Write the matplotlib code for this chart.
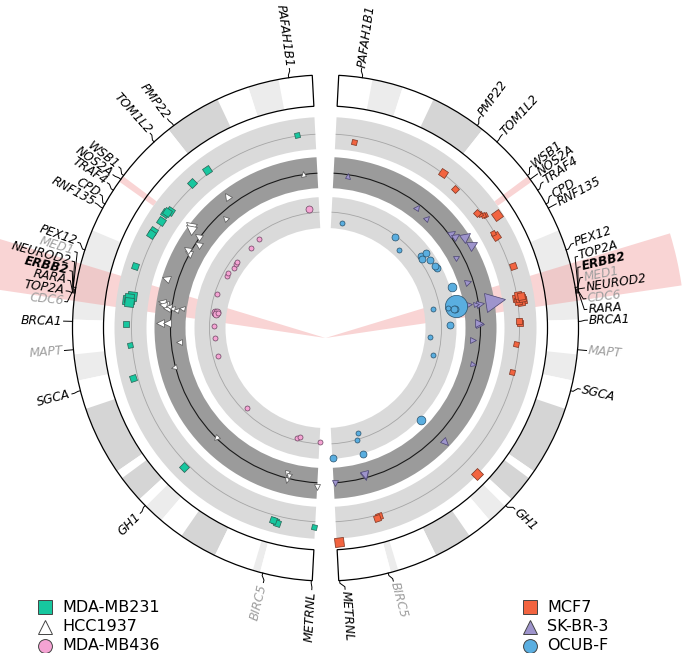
import matplotlib
matplotlib.use("Agg")
import numpy as np
import matplotlib.pyplot as plt
from matplotlib.patches import Wedge, Arc
from matplotlib.markers import MarkerStyle
from matplotlib.transforms import Affine2D

CHROM_LEN = 81.2

# chromosome 17 ideogram bands (Mb) and stain
band_start = [0.0, 3.6, 6.9, 10.4, 16.5, 30.0, 39.7, 43.4, 46.2, 49.3, 56.7, 57.6, 60.5, 61.5, 63.7, 66.4, 70.5, 74.8, 75.6]
band_end = [3.6, 6.9, 10.4, 16.5, 30.0, 39.7, 43.4, 46.2, 49.3, 56.7, 57.6, 60.5, 61.5, 63.7, 66.4, 70.5, 74.8, 75.6, 81.2]
band_stain = ['gneg', 'gpos25', 'gneg', 'gpos75', 'gneg', 'gpos25', 'gneg', 'gpos25', 'gneg', 'gpos75',
              'gneg', 'gpos75', 'gneg', 'gpos25', 'gneg', 'gpos75', 'gneg', 'gpos25', 'gneg']

# gene labels
gene_names = ['PAFAH1B1', 'PMP22', 'TOM1L2', 'WSB1', 'NOS2A', 'TRAF4', 'CPD', 'RNF135', 'PEX12', 'MED1',
              'NEUROD2', 'ERBB2', 'RARA', 'TOP2A', 'CDC6', 'BRCA1', 'MAPT', 'SGCA', 'GH1', 'BIRC5', 'METRNL']
gene_pos = [2.5, 15.8, 18.5, 23.3, 23.8, 25.2, 26.9, 27.4, 32.2, 36.3,
            36.5, 36.6, 36.8, 36.9, 36.7, 39.9, 42.9, 47.3, 61.4, 75.9, 81.1]
left_label_pos = [2.3, 15.9, 18.2, 22.9, 23.9, 24.9, 26.3, 27.3, 31.7, 32.7,
                  33.7, 34.7, 35.7, 36.8, 37.9, 39.9, 42.9, 47.4, 61.6, 76.2, 81.2]
right_label_pos = [2.3, 15.5, 18.4, 22.8, 23.8, 24.8, 26.4, 27.4, 31.8, 35.4,
                   36.5, 34.3, 38.7, 33.2, 37.6, 39.8, 42.9, 46.9, 61.0, 75.6, 80.6]
gray_genes = ['MED1', 'CDC6', 'MAPT', 'BIRC5']
bold_genes = ['ERBB2']

# outer track: MDA-MB231 (left) / MCF7 (right)
mda231_pos = [2.5, 15.8, 18.5, 23.4, 23.7, 24.0, 25.2, 26.9, 27.4, 32.2, 36.2, 36.5, 36.7, 36.9, 37.1,
              40.0, 42.9, 47.4, 61.4, 75.5, 75.8, 76.1, 81.1]
mda231_val = [0.06, 0.25, 0.16, 0.06, 0.12, 0.19, 0.12, 0.22, 0.25, 0.42, 0.15, 0.30, 0.20, 0.40, 0.25,
              0.38, 0.16, 0.31, 0.28, 0.31, 0.38, 0.44, 0.33]
mda231_size = [1, 2, 2, 2, 2, 2, 2, 2, 2, 2, 3, 3, 3, 3, 3, 2, 1, 2, 2, 2, 2, 2, 1]

mcf7_pos = [2.6, 15.9, 18.6, 23.2, 23.6, 24.1, 24.0, 25.0, 26.8, 27.4, 32.1, 36.1, 36.3, 36.5, 36.6,
            36.8, 37.0, 36.4, 36.9, 39.6, 39.9, 42.8, 46.8, 61.1, 75.2, 75.5, 80.9]
mcf7_val = [-0.35, 0.03, -0.25, -0.22, -0.12, 0.12, 0.0, 0.72, -0.06, 0.0, 0.2, 0.05, 0.25, 0.1, 0.3,
            0.0, 0.2, -0.05, 0.35, 0.0, 0.06, -0.19, -0.12, 1.06, 0.12, 0.19, 1.3]
mcf7_size = [1, 2, 1, 1, 1, 1, 1, 3, 1, 2, 2, 2, 2, 2, 2, 2, 2, 2, 2, 2, 2, 1, 1, 3, 2, 2, 3]

# middle track: HCC1937 (left) / SK-BR-3 (right)
hcc1937_pos = [2.5, 15.7, 18.4, 23.2, 23.6, 23.9, 25.1, 26.8, 27.3, 32.4, 36.4, 36.6, 36.8, 36.9, 37.1,
               37.2, 37.4, 36.9, 39.8, 39.8, 43.1, 47.4, 61.6, 75.6, 76.2, 76.0, 81.2]
hcc1937_val = [0.06, 0.65, -0.41, 1.0, 0.84, 0.13, -0.15, 0.3, 0.1, 0.77, 0.7, 0.45, 0.2, 0.58, 0.0,
               0.32, -0.26, -0.65, 0.69, 0.26, -0.5, 0.12, 0.02, -0.34, -0.19, 0.13, 0.26]
hcc1937_size = [1, 2, 1, 3, 3, 2, 2, 2, 2, 2, 2, 2, 1, 2, 1, 2, 1, 1, 2, 2, 1, 1, 1, 1, 1, 1, 1]

skbr3_pos = [2.6, 15.9, 18.6, 23.3, 24.1, 25.1, 26.8, 27.4, 32.2, 36.1, 36.3, 36.5, 36.4, 39.7, 39.9,
             42.8, 47.0, 61.0, 75.5, 75.7, 81.0]
skbr3_val = [-0.08, -0.23, -0.34, 0.19, 0.3, 0.82, 0.96, -0.4, -0.35, -0.58, -0.19, 0.06, 1.07, -0.06, 0.0,
             -0.43, -0.22, 0.68, -0.18, -0.1, 0.0]
skbr3_size = [1, 1, 1, 2, 2, 3, 3, 1, 1, 1, 1, 2, 4, 2, 2, 1, 1, 2, 2, 2, 1]

# inner track: MDA-MB436 (left) / OCUB-F (right)
mda436_pos = [2.3, 15.8, 18.6, 23.4, 24.0, 25.2, 27.0, 27.6, 32.4, 36.6, 36.8, 37.0, 37.2, 36.9,
              40.1, 43.1, 47.3, 61.7, 75.8, 76.5, 81.3]
mda436_val = [0.25, -0.29, -0.43, -0.34, -0.4, -0.41, -0.26, -0.31, -0.15, -0.39, -0.26, -0.32, -0.35, -0.45,
              -0.32, -0.35, -0.3, -0.25, -0.18, -0.29, -0.14]
mda436_size = [2, 1, 1, 1, 1, 1, 1, 1, 1, 2, 2, 2, 2, 1, 1, 1, 1, 1, 1, 1, 1]

ocubf_pos = [2.7, 16.0, 18.9, 23.3, 23.5, 24.0, 25.2, 26.8, 27.4, 32.2, 36.2, 36.6, 36.7, 36.3, 36.0,
             40.0, 42.9, 47.1, 61.2, 74.5, 75.2, 74.9, 81.0]
ocubf_val = [-0.65, -0.13, -0.57, 0.23, 0.58, 0.14, 0.52, 0.63, 0.69, 1.12, 1.08, 0.9, 0.98, 0.49, -0.44,
             0.55, -0.72, -0.35, 1.06, -0.39, 0.05, 0.97, 0.9]
ocubf_size = [1, 2, 1, 2, 2, 2, 2, 2, 2, 3, 4, 2, 2, 1, 1, 2, 1, 1, 3, 1, 1, 2, 2]

# geometry (1 data unit = 1 pixel)
CX, CY = 325.5, 328
R_IDEO = (222, 253)
TRACKS = [  # (inner, outer, line radius, band colour, line colour, line width)
    (179, 211, 194, '#dadada', '#a5a5a5', 0.6),
    (140, 171, 155, '#9b9b9b', '#1a1a1a', 0.8),
    (100, 131, 116, '#dadada', '#a5a5a5', 0.6),
]
HALF = 15.5
stain_col = {'gneg': 'white', 'gpos25': '#ececec', 'gpos75': '#d5d5d5'}
PINK = '#f2a0a0'


def ang(pos, side):
    if side == 'L':
        return 93 + pos / CHROM_LEN * 174
    return 87 - pos / CHROM_LEN * 174


def polar(r, a):
    t = np.deg2rad(a)
    return r * np.cos(t), r * np.sin(t)


def span(p0, p1, side):
    a0, a1 = ang(p0, side), ang(p1, side)
    return min(a0, a1), max(a0, a1)


fig = plt.figure(figsize=(6.85, 6.53), dpi=100)
ax = fig.add_axes([0, 0, 1, 1])
ax.set_xlim(-CX, 685 - CX)
ax.set_ylim(CY - 653, CY)
ax.axis('off')

for side in ['L', 'R']:
    full = span(0, CHROM_LEN, side)
    # ideogram bands
    for s, e, st in zip(band_start, band_end, band_stain):
        t1, t2 = span(s, e, side)
        ax.add_patch(Wedge((0, 0), R_IDEO[1], t1, t2, width=R_IDEO[1] - R_IDEO[0],
                           fc=stain_col[st], ec='none', zorder=1))
    ax.add_patch(Wedge((0, 0), R_IDEO[1], full[0], full[1], width=R_IDEO[1] - R_IDEO[0],
                       fill=False, ec='black', lw=0.9, zorder=5))
    # data tracks
    for r_in, r_out, r_line, col, lcol, lw in TRACKS:
        ax.add_patch(Wedge((0, 0), r_out, full[0], full[1], width=r_out - r_in,
                           fc=col, ec='none', zorder=3))
        ax.add_patch(Arc((0, 0), 2 * r_line, 2 * r_line, theta1=full[0], theta2=full[1],
                         color=lcol, lw=lw, zorder=4))
    # thin highlight at WSB1
    t1, t2 = span(23.4, 24.1, side)
    ax.add_patch(Wedge((0, 0), R_IDEO[1], t1, t2, width=R_IDEO[1] - 211,
                       fc=PINK, alpha=0.45, ec='none', zorder=2))

# ERBB2 highlight wedges (under the tracks)
ax.add_patch(Wedge((0, -10), 360, 163.1, 171.6, fc=PINK, alpha=0.45, ec='none', zorder=2))
ax.add_patch(Wedge((0, -10), 360, 8.4, 16.9, fc=PINK, alpha=0.45, ec='none', zorder=2))

series = [
    (mda231_pos, mda231_val, mda231_size, 'L', 0, 's', '#17c79f', '#2b5f52'),
    (mcf7_pos, mcf7_val, mcf7_size, 'R', 0, 's', '#f26440', '#7a3220'),
    (hcc1937_pos, hcc1937_val, hcc1937_size, 'L', 1, '^', 'white', '#555555'),
    (skbr3_pos, skbr3_val, skbr3_size, 'R', 1, '^', '#9e94cc', '#4a4470'),
    (mda436_pos, mda436_val, mda436_size, 'L', 2, 'o', '#f5a3d3', '#6a4460'),
    (ocubf_pos, ocubf_val, ocubf_size, 'R', 2, 'o', '#5aaee0', '#27506a'),
]
ms_map = {'s': {1: 3.6, 2: 4.8, 3: 6.3},
          '^': {1: 4.0, 2: 5.4, 3: 7.2, 4: 14.0},
          'o': {1: 3.6, 2: 5.0, 3: 6.3, 4: 16.0}}

for pos, val, size, side, ti, mk, fc, ec in series:
    r_line = TRACKS[ti][2]
    order = np.argsort(size)[::-1]
    for i in order:
        a = ang(pos[i], side)
        x, y = polar(r_line + val[i] * HALF, a)
        m = MarkerStyle(mk, transform=Affine2D().rotate_deg(a - 90))
        ax.plot(x, y, ls='none', marker=m, ms=ms_map[mk][size[i]], mfc=fc, mec=ec,
                mew=0.5, zorder=6)

# gene labels
for side, lab_pos in [('L', left_label_pos), ('R', right_label_pos)]:
    for name, gp, lp in zip(gene_names, gene_pos, lab_pos):
        ag, al = ang(gp, side), ang(lp, side)
        pts = [polar(253, ag), polar(255.5, ag), polar(259.5, al), polar(262, al)]
        ax.plot([p[0] for p in pts], [p[1] for p in pts], color='black', lw=0.7, zorder=5)
        tx, ty = polar(263.5, al)
        col = '#9e9e9e' if name in gray_genes else 'black'
        wt = 'bold' if name in bold_genes else 'normal'
        if side == 'L':
            rot, ha = al - 180, 'right'
        else:
            rot, ha = al, 'left'
        ax.text(tx, ty, name, rotation=rot, rotation_mode='anchor', ha=ha, va='center',
                fontsize=8.8, style='italic', weight=wt, color=col, zorder=7)

# legends
legend_left = [('MDA-MB231', 's', '#17c79f'), ('HCC1937', '^', 'white'), ('MDA-MB436', 'o', '#f5a3d3')]
legend_right = [('MCF7', 's', '#f26440'), ('SK-BR-3', '^', '#9e94cc'), ('OCUB-F', 'o', '#5aaee0')]
for entries, mx in [(legend_left, 45), (legend_right, 530)]:
    for k, (lab, mk, fc) in enumerate(entries):
        yy = CY - (607 + 19.5 * k)
        ax.plot(mx - CX, yy, ls='none', marker=mk, ms=10, mfc=fc, mec='#444444', mew=0.7)
        ax.text(mx + 17 - CX, yy, lab, fontsize=11.5, va='center', ha='left')

fig.savefig('out.png', dpi=100)
